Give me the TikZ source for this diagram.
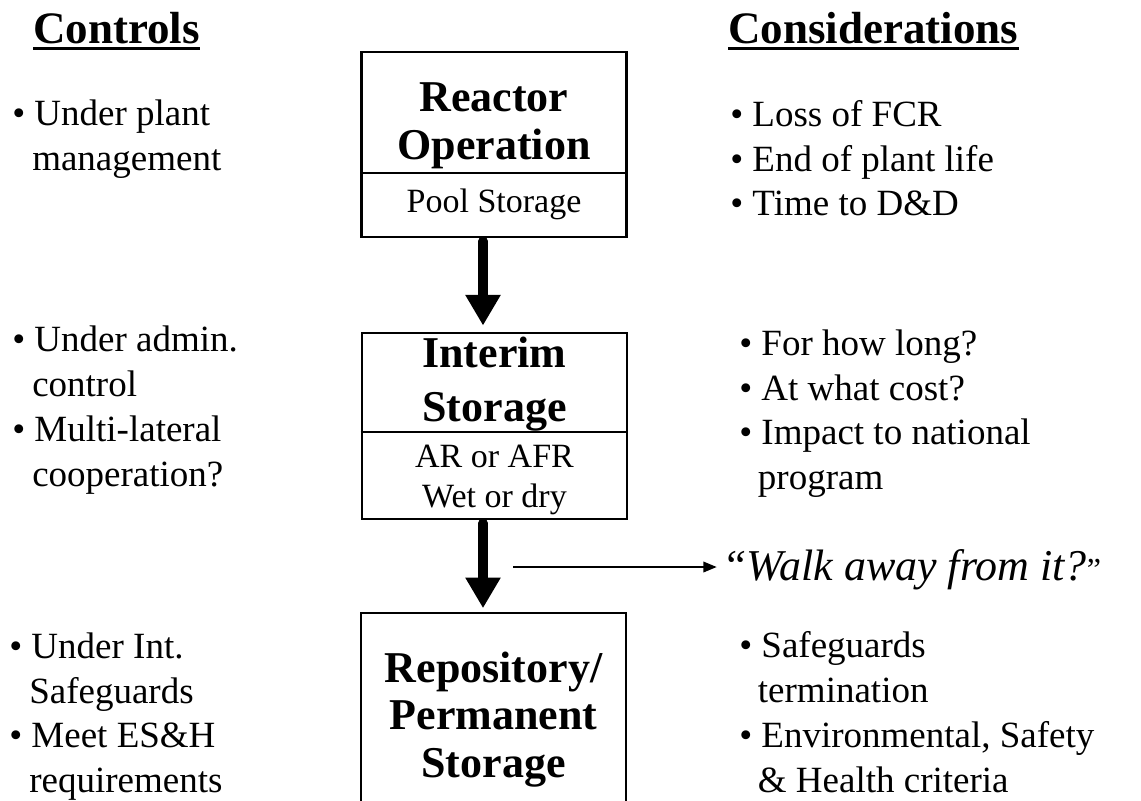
\documentclass[tikz,border=0pt]{standalone}
\usepackage{fontspec}
\setmainfont{Liberation Serif}
\usetikzlibrary{arrows.meta}
\begin{document}
\begin{tikzpicture}[x=0.75pt,y=-0.75pt,
  txt/.style={anchor=base west,inner sep=0pt,align=left,font=\fontsize{27.75}{33.5}\selectfont},
  head/.style={anchor=base west,inner sep=0pt,font=\fontsize{33.75}{40}\selectfont\bfseries},
  title/.style={anchor=base,inner sep=0pt,align=center,font=\fontsize{33}{36}\selectfont\bfseries},
  sub/.style={anchor=base,inner sep=0pt,align=center,font=\fontsize{25.5}{30}\selectfont},
  walkstyle/.style={anchor=base west,inner sep=0pt,font=\fontsize{33}{40}\selectfont\itshape},
  box/.style={draw,line width=2.2pt,inner sep=0pt,minimum width=198.75pt},
  divider/.style={line width=1.1pt},
  bigarrow/.style={line width=7pt,line cap=round,-{Triangle[width=25pt,length=23pt]}},
  thinarrow/.style={line width=1.1pt,-{Triangle[width=8pt,length=10pt]}},
  uline/.style={line width=2.5pt}
]
\useasboundingbox (0,0) rectangle (1141,800);
\clip (0,0) rectangle (1141,800);

% headings
\node[head] (hc) at (33,43) {Controls};
\node[head] (hk) at (728,43) {Considerations};
\draw[uline] ([yshift=-4pt]hc.base west) -- ([yshift=-4pt]hc.base east);
\draw[uline] ([yshift=-4pt]hk.base west) -- ([yshift=-4pt]hk.base east);

% boxes
\node[box,minimum height=138.75pt] (b1) at (494,144.5) {};
\node[box,minimum height=139.5pt] (b2) at (494.5,426) {};
\node[box,minimum height=162.75pt] (b3) at (493.5,721.5) {};

\coordinate (d1) at (0,173);
\coordinate (d2) at (0,432);
\draw[divider] (b1.west |- d1) -- (b1.east |- d1);
\draw[divider] (b2.west |- d2) -- (b2.east |- d2);

% box texts (base = last line)
\node[title] (t1) at (494,159) {Reactor\\Operation};
\node[sub] (s1) at (494,212) {Pool Storage};
\node[title,font=\fontsize{33}{40.5}\selectfont\bfseries] (t2) at (494.5,421) {Interim\\Storage};
\node[sub] (s2) at (494.5,507) {AR or AFR\\Wet or dry};
\node[title,font=\fontsize{33}{35.6}\selectfont\bfseries] (t3) at (493.5,777) {Repository/\\Permanent\\Storage};

% arrows
\coordinate (ax) at (483,0);
\draw[bigarrow,shorten >=4.5pt] ([yshift=-2pt]b1.south -| ax) -- (b2.north -| ax);
\draw[bigarrow,shorten >=2.5pt] ([yshift=-2pt]b2.south -| ax) -- (b3.north -| ax);

\node[walkstyle] (walk) at (722,580) {``Walk away from it?{\upshape\fontsize{24}{24}\selectfont ''}};
\coordinate (hs) at (513,567);
\draw[thinarrow,shorten >=4pt] (hs) -- (walk.west |- hs);

% controls (base = last line)
\node[txt] (c1) at (12,170) {• Under plant\\\hspace*{15pt}management};
\node[txt] (c2) at (12,396) {• Under admin.\\\hspace*{15pt}control};
\node[txt] (c3) at (12,486) {• Multi-lateral\\\hspace*{15pt}cooperation?};
\node[txt] (c4) at (9,703) {• Under Int.\\\hspace*{15pt}Safeguards};
\node[txt] (c5) at (9,792) {• Meet ES\&H\\\hspace*{15pt}requirements};

% considerations
\node[txt] (k1) at (730,126) {• Loss of FCR};
\node[txt] (k2) at (730,171) {• End of plant life};
\node[txt] (k3) at (730,215) {• Time to D\&D};
\node[txt] (k4) at (739,355) {• For how long?};
\node[txt] (k5) at (739,400) {• At what cost?};
\node[txt] (k6) at (739,489) {• Impact to national\\\hspace*{14pt}program};
\node[txt] (k7) at (739,702) {• Safeguards\\\hspace*{14pt}termination};
\node[txt] (k8) at (739,792) {• Environmental, Safety\\\hspace*{14pt}\& Health criteria};
\end{tikzpicture}
\end{document}
